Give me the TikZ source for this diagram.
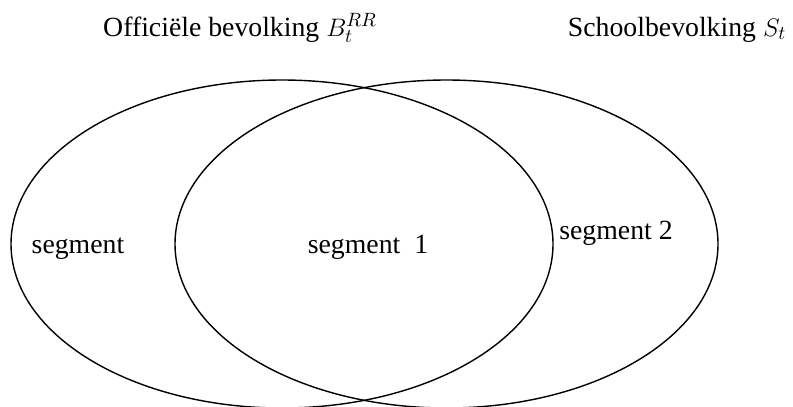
\documentclass[tikz,border=0pt]{standalone}
\usepackage{fontspec}
\setmainfont{Liberation Serif}
\usepackage{tikz}
\usetikzlibrary{positioning}

\begin{document}
\begin{tikzpicture}[x=0.02cm,y=-0.02cm,
	every node/.style={inner sep=0pt,font=\fontsize{15.8}{19}\selectfont},
	setline/.style={line width=0.8pt}]
	\useasboundingbox (0,0) rectangle (793,406);

	% the two populations
	\draw[setline] (282,244) ellipse [x radius=271,y radius=164];
	\draw[setline] (446.5,244) ellipse [x radius=271.5,y radius=164];

	%putting labels:
	\node[anchor=base] at (240,36) (officieel) {Officiële bevolking $B_t^{RR}$};
	\node[anchor=base] at (677,36) (school) {Schoolbevolking $S_t$};

	\node[anchor=base] at (78,253) (seg0) {segment};
	\node[anchor=base] at (368,253) (seg1) {segment\ \ 1};
	\node[anchor=base] at (616,239) (seg2) {segment 2};
\end{tikzpicture}
\end{document}
